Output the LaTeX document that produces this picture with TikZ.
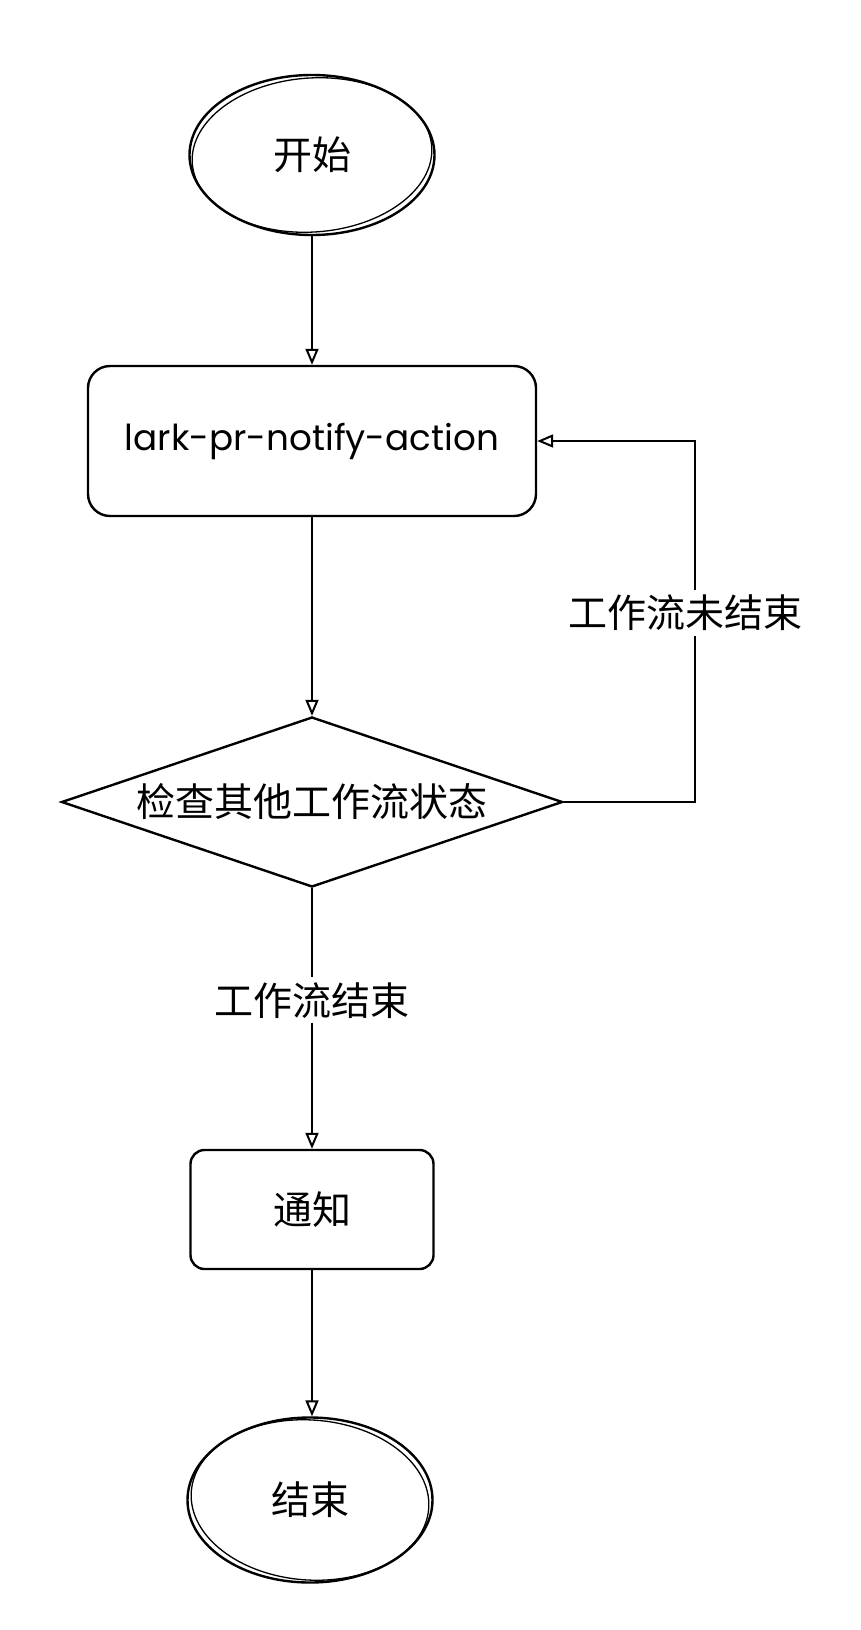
\documentclass[tikz,border=0pt]{standalone}
\usepackage{graphicx}
\usepackage{fontspec}
\setmainfont{Poppins}
\newfontfamily\cjk{Noto Sans CJK SC}
\usetikzlibrary{shapes.geometric,arrows.meta}
\begin{document}
\begin{tikzpicture}[x=1pt,y=-1pt,
  every node/.style={inner sep=0pt},
  outline/.style={draw=black, line width=2.4pt},
  cjktext/.style={font=\cjk\fontsize{39}{39}\selectfont},
  terminal/.style={outline, ellipse, minimum width=245pt, minimum height=160pt, cjktext},
  process/.style={outline, rectangle, rounded corners=22pt},
  decision/.style={outline, diamond, aspect=2.95, minimum width=501pt, minimum height=170pt, cjktext},
  sketch/.style={draw=black, line width=1.3pt},
  flow/.style={draw=black, line width=2.3pt, -{Triangle[open, length=16pt, width=13pt, line width=2pt]}},
  edgelabel/.style={fill=white, cjktext, inner sep=5pt}
]
\path[use as bounding box, fill=white] (0,0) rectangle (860,1630);

% nodes
\node[terminal] (start) at (312,155) {开始};
\node[process, minimum width=448pt, minimum height=150pt] (act) at (312,441)
  {\resizebox{374pt}{!}{lark-pr-notify-action}};
\node[decision] (chk) at (312,802) {检查其他工作流状态};
\node[process, minimum width=243pt, minimum height=119pt, cjktext, rounded corners=14pt] (notify) at (312,1209.5) {通知};
\node[terminal, minimum height=165pt] (end) at (310,1500) {结束};

% sketchy second strokes
\draw[sketch, rotate around={4:(start.center)}] (start.center) ellipse [x radius=120pt, y radius=77pt];
\draw[sketch, rotate around={-4:(end.center)}] (end.center) ellipse [x radius=119pt, y radius=80pt];

% connectors
\coordinate (loopB) at (695,802);
\coordinate (loopT) at (695,441);
\draw[flow] (start) -- (act);
\draw[flow] (act) -- (chk);
\draw[flow] (chk) -- node[edgelabel, pos=0.43] (lbl2) {工作流结束} (notify);
\draw[flow] (notify.south) -- (notify.south |- end.north);
\draw[flow] (chk.east) -- (loopB) -- (loopT) -- (act.east);
\node[edgelabel] (lbl1) at (685,613) {工作流未结束};
\end{tikzpicture}
\end{document}
